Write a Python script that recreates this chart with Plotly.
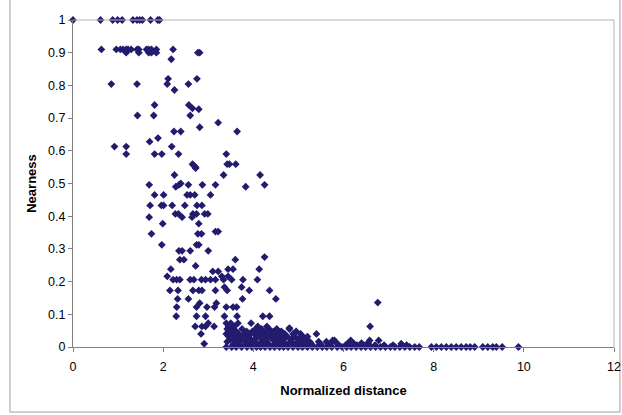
import plotly.graph_objects as go

# ---- data (Normalized distance, Nearness) ----
dist_top = [0.00, 0.61, 0.88, 0.99, 1.09, 1.33, 1.42, 1.48, 1.54, 1.72, 1.88, 1.92,
            0.63, 0.96, 1.05, 1.11, 1.18, 1.22, 1.29, 1.42, 1.46, 1.63, 1.68, 1.74, 1.85, 2.22,
            1.18, 1.46, 1.68, 1.74, 1.85, 2.77, 2.81]
near_top = [1.00, 1.00, 1.00, 1.00, 1.00, 1.00, 1.00, 1.00, 1.00, 1.00, 1.00, 1.00,
            0.91, 0.91, 0.91, 0.91, 0.91, 0.91, 0.91, 0.91, 0.91, 0.91, 0.91, 0.91, 0.91, 0.91,
            0.90, 0.90, 0.90, 0.90, 0.90, 0.90, 0.90]

dist_upper = [2.18, 2.11, 2.75, 0.85, 1.42, 2.09, 2.56, 2.25,
              1.81, 2.57, 2.65, 2.79, 1.43, 1.79, 2.60,
              2.81, 3.22, 2.24, 2.39, 3.64, 1.885, 1.70,
              0.92, 1.18, 2.19,
              1.18, 1.81, 1.97, 2.34, 3.40,
              2.65, 2.68, 2.72, 3.42, 3.47, 3.61, 2.72,
              2.25, 3.34, 4.15,
              1.69, 2.28, 2.35, 2.39, 2.56, 2.87, 3.16, 3.83, 4.25,
              1.81, 2.01, 2.53, 2.60, 2.70, 3.05]
near_upper = [0.88, 0.82, 0.82, 0.804, 0.804, 0.804, 0.804, 0.786,
              0.74, 0.74, 0.73, 0.727, 0.708, 0.708, 0.708,
              0.672, 0.686, 0.659, 0.659, 0.659, 0.639, 0.628,
              0.613, 0.613, 0.613,
              0.59, 0.59, 0.59, 0.59, 0.59,
              0.559, 0.555, 0.55, 0.559, 0.559, 0.559, 0.547,
              0.526, 0.526, 0.526,
              0.496, 0.49, 0.496, 0.50, 0.496, 0.496, 0.496, 0.49, 0.496,
              0.465, 0.465, 0.465, 0.465, 0.465, 0.465]

dist_mid = [1.71, 1.96, 2.01, 2.20, 2.48, 2.75, 2.86,
            2.27, 2.34, 2.66, 2.74, 2.92, 2.99,
            1.69, 2.42, 2.64, 1.99, 2.79,
            1.74, 2.77, 2.85, 3.16, 3.22,
            1.97, 2.74, 2.79,
            2.35, 2.42, 2.60, 3.00,
            2.37, 2.46, 3.60, 4.25, 2.72,
            2.17, 3.44, 3.55, 4.13, 3.10, 3.22,
            2.09, 3.30, 3.44]
near_mid = [0.433, 0.433, 0.433, 0.433, 0.433, 0.433, 0.433,
            0.407, 0.407, 0.407, 0.407, 0.407, 0.407,
            0.397, 0.397, 0.397, 0.377, 0.377,
            0.346, 0.346, 0.346, 0.353, 0.353,
            0.3125, 0.3125, 0.3125,
            0.294, 0.294, 0.294, 0.294,
            0.267, 0.267, 0.267, 0.275, 0.248,
            0.238, 0.238, 0.238, 0.238, 0.231, 0.231,
            0.216, 0.216, 0.216]

dist_low = [2.22, 2.30, 2.37, 2.60, 2.68, 2.85, 2.94, 3.05, 3.16, 3.34, 3.52, 3.77, 4.09,
            3.36, 3.74,
            2.15, 2.33, 2.66, 2.79, 2.86, 3.16, 3.42, 3.91, 4.36,
            2.32, 2.56, 3.76, 4.50,
            2.81, 3.18,
            2.30, 2.74, 2.97, 3.14, 3.40, 3.55, 3.63,
            2.29, 2.74, 2.94, 3.36, 3.64, 4.21, 4.36,
            3.00, 3.40, 3.50, 3.66, 3.95,
            2.71, 2.86, 2.94, 3.13, 3.45, 3.58, 4.10, 4.30,
            2.84, 2.91, 6.76, 6.59, 5.40, 4.80]
near_low = [0.206, 0.206, 0.206, 0.206, 0.206, 0.206, 0.206, 0.206, 0.206, 0.206, 0.206, 0.206, 0.206,
            0.183, 0.183,
            0.173, 0.173, 0.173, 0.173, 0.173, 0.173, 0.173, 0.173, 0.173,
            0.147, 0.147, 0.147, 0.147,
            0.134, 0.134,
            0.122, 0.122, 0.122, 0.122, 0.122, 0.122, 0.122,
            0.094, 0.094, 0.094, 0.094, 0.094, 0.094, 0.094,
            0.073, 0.073, 0.073, 0.073, 0.073,
            0.063, 0.063, 0.063, 0.063, 0.063, 0.063, 0.063, 0.063,
            0.04, 0.01, 0.136, 0.063, 0.04, 0.058]

dist_cluster = [3.42, 3.55, 3.75, 4.05, 4.18, 4.35, 4.52, 4.80,
                3.48, 3.62, 3.85, 3.98, 4.12, 4.28, 4.45, 4.62, 4.95,
                3.40, 3.52, 3.68, 3.80, 3.92, 4.02, 4.22, 4.38, 4.55, 4.70, 4.88, 5.05,
                3.45, 3.58, 3.72, 3.88, 4.08, 4.15, 4.32, 4.48, 4.60, 4.75, 4.92, 5.10, 5.20,
                3.50, 3.64, 3.78, 3.95, 4.05, 4.25, 4.42, 4.58, 4.68, 4.85, 5.00, 5.15, 5.76, 5.80, 6.16, 6.58, 6.78,
                3.42, 3.60, 3.70, 3.84, 4.00, 4.18, 4.30, 4.50, 4.65, 4.82, 4.98, 5.08, 5.25, 5.45, 5.62, 5.82,
                6.10, 6.22, 6.40, 6.55, 7.28,
                3.55, 3.68, 3.82, 3.90, 4.10, 4.20, 4.35, 4.46, 4.57, 4.72, 4.90, 5.02, 5.18, 5.30, 5.50, 5.70,
                5.90, 6.05, 6.30, 6.48, 6.70, 6.90, 7.10, 7.40]
near_cluster = [0.055, 0.055, 0.055, 0.055, 0.055, 0.055, 0.055, 0.055,
                0.048, 0.048, 0.048, 0.048, 0.048, 0.048, 0.048, 0.048, 0.048,
                0.040, 0.040, 0.040, 0.040, 0.040, 0.040, 0.040, 0.040, 0.040, 0.040, 0.040, 0.040,
                0.032, 0.032, 0.032, 0.032, 0.032, 0.032, 0.032, 0.032, 0.032, 0.032, 0.032, 0.032, 0.032,
                0.024, 0.024, 0.024, 0.024, 0.024, 0.024, 0.024, 0.024, 0.024, 0.024, 0.024, 0.024, 0.020, 0.020, 0.020, 0.020, 0.020,
                0.016, 0.016, 0.016, 0.016, 0.016, 0.016, 0.016, 0.016, 0.016, 0.016, 0.016, 0.016, 0.016, 0.016, 0.016, 0.016,
                0.012, 0.012, 0.012, 0.012, 0.010,
                0.008, 0.008, 0.008, 0.008, 0.008, 0.008, 0.008, 0.008, 0.008, 0.008, 0.008, 0.008, 0.008, 0.008, 0.008, 0.008,
                0.006, 0.006, 0.006, 0.006, 0.006, 0.006, 0.006, 0.006]

dist_floor = [3.40, 3.52, 3.62, 3.74, 3.86, 3.97, 4.07, 4.16, 4.26, 4.37, 4.47, 4.58, 4.67, 4.77,
              4.88, 4.99, 5.09, 5.20, 5.31, 5.42, 5.53, 5.63, 5.74, 5.86, 5.97, 6.07, 6.17, 6.28,
              6.39, 6.49, 6.60, 6.71, 6.82, 6.93, 7.04, 7.14, 7.25, 7.36, 7.47, 7.58, 7.68,
              7.95, 8.06, 8.17, 8.28, 8.39, 8.50, 8.61, 8.72, 8.81, 8.91,
              9.09, 9.20, 9.31, 9.39, 9.52, 9.88]
near_floor = [0.0, 0.0, 0.0, 0.0, 0.0, 0.0, 0.0, 0.0, 0.0, 0.0, 0.0, 0.0, 0.0, 0.0,
              0.0, 0.0, 0.0, 0.0, 0.0, 0.0, 0.0, 0.0, 0.0, 0.0, 0.0, 0.0, 0.0, 0.0,
              0.0, 0.0, 0.0, 0.0, 0.0, 0.0, 0.0, 0.0, 0.0, 0.0, 0.0, 0.0, 0.0,
              0.0, 0.0, 0.0, 0.0, 0.0, 0.0, 0.0, 0.0, 0.0, 0.0,
              0.0, 0.0, 0.0, 0.0, 0.0, 0.0]

x_ticks = [0, 2, 4, 6, 8, 10, 12]
y_ticks = [0, 0.1, 0.2, 0.3, 0.4, 0.5, 0.6, 0.7, 0.8, 0.9, 1]
y_labels = ["0", "0.1", "0.2", "0.3", "0.4", "0.5", "0.6", "0.7", "0.8", "0.9", "1"]

distance = dist_top + dist_upper + dist_mid + dist_low + dist_cluster + dist_floor
nearness = near_top + near_upper + near_mid + near_low + near_cluster + near_floor

FONT = "Liberation Sans, Arial, sans-serif"
MARK = "rgb(35,28,110)"

fig = go.Figure(go.Scatter(
    x=distance, y=nearness, mode="markers",
    marker=dict(symbol="diamond", size=6, color=MARK, line=dict(width=0)),
    cliponaxis=False, showlegend=False, hoverinfo="skip",
))

fig.update_layout(
    width=622, height=415,
    margin=dict(l=73, r=8, t=20, b=68),
    paper_bgcolor="white", plot_bgcolor="white",
    font=dict(family=FONT, size=12.5, color="black"),
    xaxis=dict(range=[0, 12], tickvals=x_ticks, showgrid=False, zeroline=False, automargin=False,
               showline=True, linecolor="#808080", linewidth=1,
               ticks="outside", ticklen=4, tickcolor="#808080",
               title=dict(text="<b>Normalized distance</b>", font=dict(size=13), standoff=12),
               ticklabelstandoff=4),
    yaxis=dict(range=[0, 1], tickvals=y_ticks, ticktext=y_labels, showgrid=False, zeroline=False,
               automargin=False,
               showline=True, linecolor="#808080", linewidth=1,
               ticks="outside", ticklen=4, tickcolor="#808080",
               title=dict(text="<b>Nearness</b>", font=dict(size=13), standoff=8)),
    shapes=[
        # top and right of plot area
        dict(type="line", xref="paper", yref="paper", x0=0, x1=1, y0=1, y1=1,
             line=dict(color="#B4B4B4", width=1)),
        dict(type="line", xref="paper", yref="paper", x0=1, x1=1, y0=0, y1=1,
             line=dict(color="#B4B4B4", width=1)),
        # outer chart border
        dict(type="rect", xref="paper", yref="paper",
             x0=-0.1165, x1=1.011, y0=-0.1988, y1=1.07,
             line=dict(color="#C0C0C0", width=1.5), layer="below"),
    ],
)

# remove the default page margin so the 622x415 figure fills the window exactly
fig.write_html(
    "out.html",
    config={"displayModeBar": False},
    post_script="document.body.style.margin='0';document.body.style.overflow='hidden';"
                "document.documentElement.style.overflow='hidden';",
)
